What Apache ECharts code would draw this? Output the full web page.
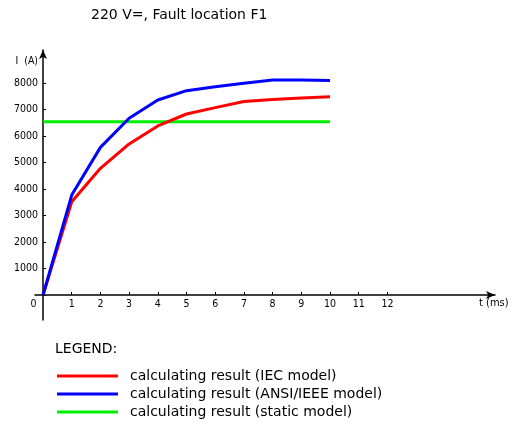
<!DOCTYPE html>
<html><head><meta charset="utf-8">
<script src="https://cdn.jsdelivr.net/npm/echarts@6/dist/echarts.min.js"></script>
<style>html,body{margin:0;padding:0;background:#fff}#c{width:516px;height:424px}</style>
</head><body><div id="c"></div>
<script>
var timeMs = [0,1,2,3,4,5,6,7,8,9,10];
var iecModel = [0,3520,4780,5700,6380,6830,7070,7300,7380,7430,7480];
var ansiModel = [0,3770,5570,6670,7360,7710,7860,7990,8110,8110,8090];
var staticModel = [6540,6540,6540,6540,6540,6540,6540,6540,6540,6540,6540];
var seriesNames = ['calculating result (IEC model)','calculating result (ANSI/IEEE model)','calculating result (static model)'];
var xTickLabels = ['0','1','2','3','4','5','6','7','8','9','10','11','12'];
var yTickLabels = ['','1000','2000','3000','4000','5000','6000','7000','8000'];

var FONT = '"DejaVu Sans Condensed", "DejaVu Sans", sans-serif';
var FONT_BIG = '"DejaVu Sans", sans-serif';
function pairs(v){ return timeMs.map(function(t,i){ return [t, v[i]]; }); }

var chart = echarts.init(document.getElementById('c'), null, {renderer:'canvas'});
chart.setOption({
  animation:false,
  backgroundColor:'#fff',
  title:[
    {text:'220 V=, Fault location F1', left:91, top:8, padding:0, textStyle:{fontFamily:FONT_BIG,fontSize:14,fontWeight:'normal',color:'#000'}},
    {text:'LEGEND:', left:55, top:342, padding:0, textStyle:{fontFamily:FONT_BIG,fontSize:14,fontWeight:'normal',color:'#000'}}
  ],
  legend:{
    orient:'vertical', left:57, top:367, padding:0, icon:'rect', itemWidth:61, itemHeight:3, itemGap:0,
    textStyle:{fontFamily:FONT_BIG,fontSize:14,color:'#000',lineHeight:18,padding:[0,0,0,7]},
    data:seriesNames
  },
  grid:[
    {left:35, right:21, top:50, bottom:104},
    {left:43, top:83, bottom:129, width:344.4}
  ],
  xAxis:[
    {type:'value', gridIndex:0, min:-0.28, max:15.75,
     axisLine:{onZero:true, symbol:['none','arrow'], symbolSize:[6,9], lineStyle:{color:'#000',width:1.5}},
     axisTick:{show:false}, axisLabel:{show:false}, splitLine:{show:false},
     name:'t (ms)', nameLocation:'end', nameGap:-16,
     nameTextStyle:{fontFamily:FONT,fontSize:11,color:'#000',align:'left',verticalAlign:'top',padding:[3,0,0,0]}},
    {type:'value', gridIndex:1, min:0, max:12, interval:1,
     axisLine:{show:false}, splitLine:{show:false},
     axisTick:{show:true, inside:true, length:3, lineStyle:{color:'#000'}},
     axisLabel:{fontFamily:FONT,fontSize:10.5,color:'#000',margin:4,
       formatter:function(v){ var s = xTickLabels[Math.round(v)]; return v===0 ? '{z|'+s+'}' : s; },
       rich:{z:{fontFamily:FONT,fontSize:10.5,color:'#000',padding:[0,19,0,0]}}}}
  ],
  yAxis:[
    {type:'value', gridIndex:0, min:-943, max:9245,
     axisLine:{onZero:true, symbol:['none','arrow'], symbolSize:[6,9], lineStyle:{color:'#000',width:1.5}},
     axisTick:{show:false}, axisLabel:{show:false}, splitLine:{show:false},
     name:'I  (A)', nameLocation:'end', nameGap:-11,
     nameTextStyle:{fontFamily:FONT,fontSize:10.5,color:'#000',align:'right',verticalAlign:'middle',padding:[0,5,0,0]}},
    {type:'value', gridIndex:1, min:0, max:8000, interval:1000,
     axisLine:{show:false}, splitLine:{show:false},
     axisTick:{show:true, inside:true, length:3, lineStyle:{color:'#000'}},
     axisLabel:{fontFamily:FONT,fontSize:10.5,color:'#000',margin:5,
       formatter:function(v){ return yTickLabels[Math.round(v/1000)]; }}}
  ],
  series:[
    {name:seriesNames[0], type:'line', xAxisIndex:0, yAxisIndex:0, data:pairs(iecModel), showSymbol:false, color:'#ff0000', lineStyle:{width:3,color:'#ff0000'}, z:3},
    {name:seriesNames[1], type:'line', xAxisIndex:0, yAxisIndex:0, data:pairs(ansiModel), showSymbol:false, color:'#0000ff', lineStyle:{width:3,color:'#0000ff'}, z:4},
    {name:seriesNames[2], type:'line', xAxisIndex:0, yAxisIndex:0, data:pairs(staticModel), showSymbol:false, color:'#00ee00', lineStyle:{width:3,color:'#00ee00'}, z:2}
  ]
});
</script></body></html>
